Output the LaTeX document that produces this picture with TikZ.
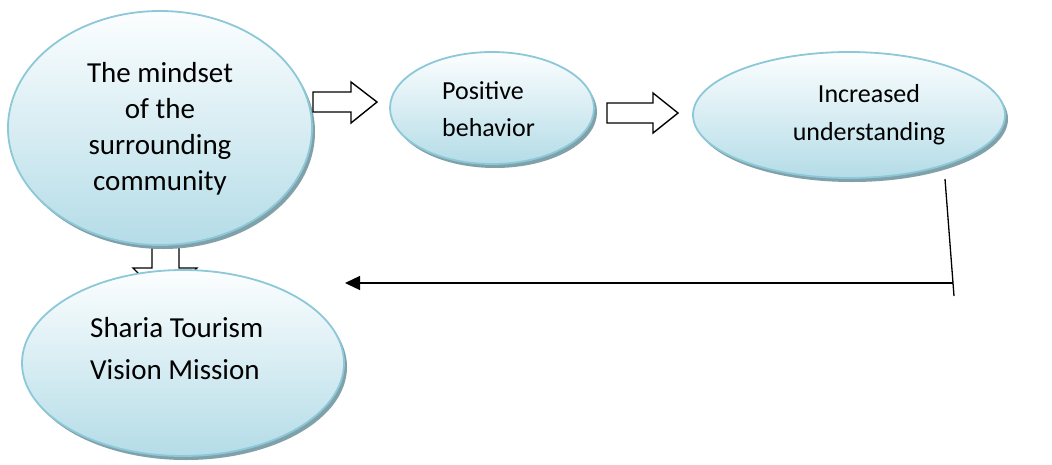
\documentclass[tikz,border=0pt]{standalone}
\usepackage{fontspec}
\setmainfont{Carlito}
\usetikzlibrary{shapes.geometric,arrows.meta}
\definecolor{rim}{RGB}{140,200,216}
\definecolor{fillbot}{RGB}{180,220,231}
\definecolor{filltop}{RGB}{252,254,255}
\definecolor{shad}{RGB}{128,160,170}
\tikzset{
  bubble/.style={ellipse, draw=rim, line width=1.8pt, top color=filltop, bottom color=fillbot, inner sep=0pt},
  bubshadow/.style={ellipse, fill=shad, inner sep=0pt, draw=none},
  txt/.style={inner sep=0pt, text=black},
  block/.style={draw=black, line width=1.4pt, fill=white, line join=miter},
  conn/.style={draw=black, line width=1.3pt}
}
\begin{document}
\begin{tikzpicture}[x=1pt,y=-1pt]
\useasboundingbox (0,0) rectangle (1052,464);
% down block arrow (head hidden behind lower ellipse)
\draw[block] (152,235) -- (179,235) -- (179,268) -- (197,268) -- (165,300) -- (133,268) -- (152,268) -- cycle;
% shadows
\node[bubshadow, minimum width=304, minimum height=234] (s1) at (163,132) {};
\node[bubshadow, minimum width=204, minimum height=112] (s2) at (495,112) {};
\node[bubshadow, minimum width=312, minimum height=126] (s3) at (852,119) {};
\node[bubshadow, minimum width=322, minimum height=186] (s4) at (186,367) {};
% ellipses
\node[bubble, minimum width=304, minimum height=234] (e1) at (160,128) {};
\node[bubble, minimum width=204, minimum height=112] (e2) at (492,108) {};
\node[bubble, minimum width=312, minimum height=126] (e3) at (849,115) {};
\node[bubble, minimum width=322, minimum height=186] (e4) at (183,363) {};
% texts (base anchor = baseline of last line)
\node[txt, align=center, font=\fontsize{29}{36}\selectfont, anchor=base] (t1) at (160,190) {The mindset\\of the\\surrounding\\community};
\node[txt, align=left, font=\fontsize{26}{37}\selectfont, anchor=base west] (t2) at (442,136) {Positive\\behavior};
\node[txt, align=center, font=\fontsize{26}{38}\selectfont, anchor=base] (t3) at (869,140) {Increased\\understanding};
\node[txt, align=left, font=\fontsize{29}{42}\selectfont, anchor=base west] (t4) at (90,379) {Sharia Tourism\\Vision Mission};
% right block arrows
\draw[block] (313,92) -- (351,92) -- (351,82) -- (377,102) -- (351,123) -- (351,112) -- (313,112) -- cycle;
\draw[block] (607,103) -- (653,103) -- (653,93) -- (678,113) -- (653,133) -- (653,123) -- (607,123) -- cycle;
% feedback connector
\coordinate (ltop) at (945,179);
\coordinate (lbot) at (954,296);
\coordinate (corner) at (953,283);
\coordinate (tip) at (345,283);
\draw[conn] (ltop) -- (lbot);
\draw[conn, -{Triangle[length=15pt,width=14pt]}] (corner) -- (tip);
\end{tikzpicture}
\end{document}
